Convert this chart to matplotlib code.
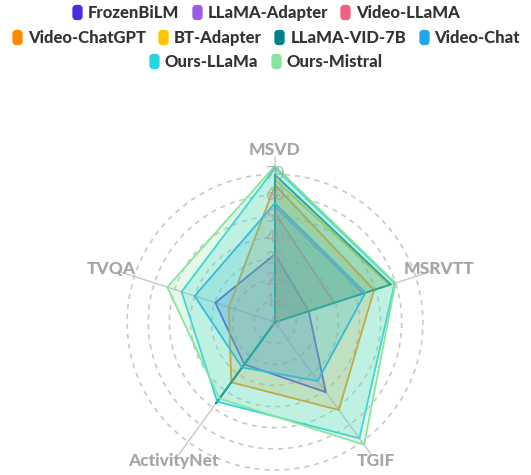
import numpy as np
import matplotlib
matplotlib.use('Agg')
import matplotlib.pyplot as plt
from matplotlib.lines import Line2D
from matplotlib.patches import FancyBboxPatch

axes_names = ['MSVD', 'MSRVTT', 'TGIF', 'ActivityNet', 'TVQA']
ticks = [0, 10, 20, 30, 40, 50, 60, 70]

names = ['FrozenBiLM', 'LLaMA-Adapter', 'Video-LLaMA', 'Video-ChatGPT', 'BT-Adapter',
         'LLaMA-VID-7B', 'Video-Chat', 'Ours-LLaMa', 'Ours-Mistral']
colors = ['#4a2ce3', '#9b5de5', '#f35f80', '#ff8a00', '#ffc400',
          '#00818c', '#1fa6ec', '#27d5e2', '#88e59c']

frozenbilm = [32.2, 16.8, 41.0, 24.7, 29.7]
llama_adapter = [54.9, 43.8, 0, 34.2, 0]
video_llama = [51.6, 29.6, 0, 12.4, 0]
video_chatgpt = [64.9, 49.3, 51.4, 35.2, 23.0]
bt_adapter = [67.5, 57.0, 0, 45.7, 0]
llama_vid = [69.7, 57.7, 0, 47.4, 0]
video_chat = [56.3, 45.0, 34.4, 26.5, 40.0]
ours_llama = [73.0, 59.6, 68.0, 46.5, 46.5]
ours_mistral = [74.0, 60.0, 71.8, 44.7, 53.6]
series = [frozenbilm, llama_adapter, video_llama, video_chatgpt, bt_adapter,
          llama_vid, video_chat, ours_llama, ours_mistral]

fig = plt.figure(figsize=(5.31, 4.75), dpi=100)
# polar axes centred on the chart, 80 units ~ 169 px
ax = fig.add_axes([0.1996, -0.034, 0.6365, 0.7116], projection='polar')
ax.set_theta_offset(np.pi / 2)
ax.set_theta_direction(-1)
ax.set_ylim(0, 80)
ax.set_axis_off()

angles = np.linspace(0, 2 * np.pi, len(axes_names), endpoint=False)

# dashed rings
circ = np.linspace(0, 2 * np.pi, 361)
for r in ticks[1:]:
    ax.plot(circ, np.full_like(circ, r), color='#c9c9c9', lw=1.2,
            ls=(0, (3, 3)), zorder=0)

# spokes and axis names
for a, n in zip(angles, axes_names):
    ax.plot([a, a], [0, 78], color='#cccccc', lw=1.1, zorder=0)
    ax.text(a, 81.5, n, ha='center', va='center', fontsize=12.5,
            fontweight='black', color='#a5a5a5', family='Lato')

theta = np.append(angles, angles[0])
for i, (vals, c) in enumerate(zip(series, colors)):
    v = np.append(vals, vals[0])
    ax.fill(theta, v, color=c, alpha=0.22, lw=0, zorder=2 + 2 * i)
    ax.plot(theta, v, color=c, lw=1.3, zorder=3 + 2 * i)

for t in ticks:
    ax.text(0, t, str(t), ha='center', va='center', fontsize=12,
            color='#a0a0a0', alpha=0.75, family='Lato', zorder=30)

# legend with rounded markers
pill = FancyBboxPatch((-0.32, -0.5), 0.64, 1.0,
                      boxstyle='round,pad=0,rounding_size=0.22').get_path()
rows = [[0, 1, 2], [3, 4, 5, 6], [7, 8]]
row_y = [1 - 13 / 475, 1 - 38 / 475, 1 - 62 / 475]
for row, y in zip(rows, row_y):
    hs = [Line2D([], [], ls='none', marker=pill, markersize=10,
                 markerfacecolor=colors[k], markeredgecolor=colors[k])
          for k in row]
    leg = fig.legend(hs, [names[k] for k in row], loc='center',
                     bbox_to_anchor=(0.5, y), ncol=len(row), frameon=False,
                     handlelength=0.7, handletextpad=0.3, columnspacing=0.7,
                     borderpad=0, prop={'family': 'Lato', 'weight': 'black', 'size': 12})
    for txt in leg.get_texts():
        txt.set_color('#333333')

fig.savefig('out.png', dpi=100)
